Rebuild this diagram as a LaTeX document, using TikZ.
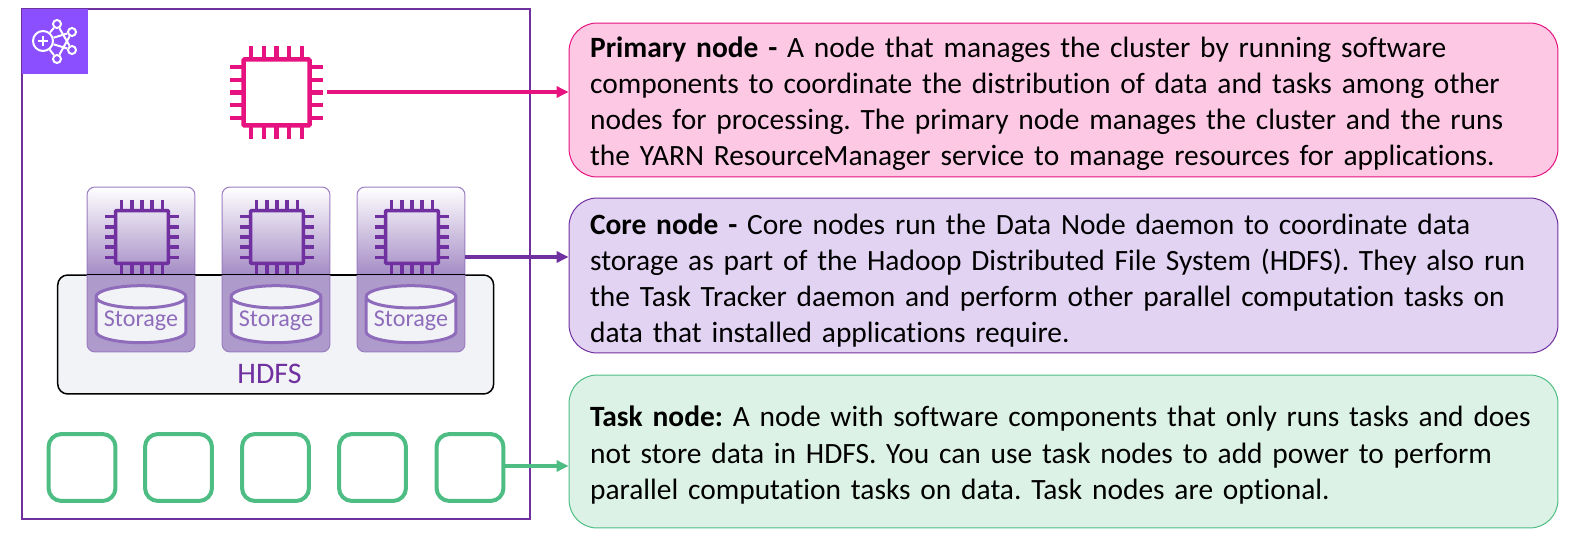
\documentclass[tikz,border=0pt]{standalone}
\usepackage{fontspec}
\setmainfont{Carlito}[Ligatures=NoCommon]
\frenchspacing
\usetikzlibrary{arrows.meta, shapes.geometric, positioning}
\definecolor{framepurple}{HTML}{7030A0}
\definecolor{iconpurple}{HTML}{8C4FFF}
\definecolor{chippink}{HTML}{E6127F}
\definecolor{taskgreen}{HTML}{4DBD84}
\definecolor{cardmid}{HTML}{A48BC5}
\definecolor{cardlow}{HTML}{AF9BCB}
\definecolor{cardedge}{HTML}{9A7CC0}
\definecolor{hdfsfill}{HTML}{F2F3F7}
\definecolor{storeline}{HTML}{8E6CBB}
\definecolor{primaryfill}{HTML}{FCC8E4}
\definecolor{corefill}{HTML}{E2D3F2}
\definecolor{taskfill}{HTML}{DDF2E6}
\pgfdeclareverticalshading{cardshade}{100bp}{color(0bp)=(cardlow); color(48.3bp)=(cardlow); color(48.3bp)=(cardmid); color(75bp)=(white); color(100bp)=(white)}
\tikzset{>={Triangle[length=0.24cm,width=0.22cm]},
  chip/.pic={
    \draw[rounded corners=0.02cm] (-33,-33) rectangle (33,33);
    \foreach \p in {-2,...,2} {
      \draw (\p*12.7,-33)--(\p*12.7,-46.5);
      \draw (\p*12.7,33)--(\p*12.7,46.5);
      \draw (-33,\p*12.7)--(-46.5,\p*12.7);
      \draw (33,\p*12.7)--(46.5,\p*12.7);
    }
  },
  card/.style={rectangle, rounded corners=0.16cm, draw=cardedge, line width=0.02cm, shading=cardshade, minimum width=2.16cm, minimum height=3.3cm, inner sep=0pt},
  store/.style={cylinder, shape border rotate=90, aspect=0.3, draw=storeline, fill=hdfsfill, line width=0.06cm, minimum width=1.8cm, minimum height=1.14cm, inner sep=0pt, text=storeline, font=\fontsize{13.7}{15}\selectfont},
  taskbox/.style={rectangle, rounded corners=0.26cm, draw=taskgreen, line width=0.08cm, minimum size=1.34cm, inner sep=0pt},
  infobox/.style={rectangle, rounded corners=0.56cm, line width=0.02cm, minimum width=19.78cm, text width=18.94cm, inner xsep=0.42cm, inner ysep=0pt, align=left, font=\fontsize{16.75}{20.6}\selectfont},
  iconline/.style={draw=white, line width=0.04cm},
  iconnode/.style={circle, draw=white, line width=0.04cm, minimum size=0.16cm, inner sep=0pt}
}
\begin{document}
\begin{tikzpicture}[x=0.02cm, y=-0.02cm]
\useasboundingbox (0,0) rectangle (1570,537);

% cluster frame and icon
\node[rectangle, draw=framepurple, line width=0.045cm, minimum width=10.16cm, minimum height=10.2cm, inner sep=0pt] (cluster) at (276,264) {};
\node[rectangle, fill=iconpurple, minimum width=1.32cm, minimum height=1.3cm, inner sep=0pt] (icon) at (55,41.5) {};
\node[iconnode, minimum size=0.4cm] (hub) at (43,41) {};
\node[iconnode] (n1) at (57,24) {};
\node[iconnode] (n2) at (72,32) {};
\node[iconnode] (n3) at (72,50) {};
\node[iconnode] (n4) at (57,59) {};
\draw[iconline] (hub)--(n1);
\draw[iconline] (hub)--(n2);
\draw[iconline] (hub)--(n3);
\draw[iconline] (hub)--(n4);
\draw[iconline] (n1)--(n3);
\draw[iconline] (n2)--(n4);
\draw[white, line width=0.04cm] (38,41)--(48,41) (43,36)--(43,46);

% primary
\pic[draw=chippink, line width=0.09cm] at (276.5,92.5) {chip};
\coordinate (primaryout) at (327,92);

% hdfs and core nodes
\node[rectangle, rounded corners=0.2cm, draw=black, fill=hdfsfill, line width=0.03cm, minimum width=8.72cm, minimum height=2.38cm, inner sep=0pt] (hdfs) at (275.7,334.5) {};
\node[text=framepurple, font=\fontsize{17}{20}\selectfont, inner sep=0pt] (hdfslabel) at (269.5,373.5) {HDFS};
\foreach \i/\x in {1/141, 2/276, 3/411} {
  \node[card] (card\i) at (\x,269.5) {};
  \pic[draw=framepurple, line width=0.07cm, scale=0.8] at (\x+1,237) {chip};
  \node[store] (store\i) at (\x,320.5) {Storage};
}
\draw[black, line width=0.03cm] (card1.west |- hdfs.north)--(card3.east |- hdfs.north);
\coordinate (coreout) at (465,257);

% task nodes
\foreach \i/\x in {1/82, 2/178.5, 3/275.5, 4/372.5, 5/470} {
  \node[taskbox] (task\i) at (\x,467.5) {};
}

% descriptions
\node[infobox, draw=chippink, fill=primaryfill] (infoP) at (1063.5,100) [minimum height=3.08cm] {\rule{0pt}{0.56cm}\textbf{Primary node -} A node that manages the cluster by running software\\
components to coordinate the distribution of data and tasks among other\\
nodes for processing. The primary node manages the cluster and the runs\\
the YARN ResourceManager service to manage resources for applications.};
\node[infobox, draw=framepurple, fill=corefill] (infoC) at (1063.5,275.5) [minimum height=3.1cm] {\rule{0pt}{0.62cm}\textbf{Core node -} Core nodes run the Data Node daemon to coordinate data\\
storage as part of the Hadoop Distributed File System (HDFS). They also run\\
the Task Tracker daemon and perform other parallel computation tasks on\\
data that installed applications require.};
\node[infobox, draw=taskgreen, fill=taskfill] (infoT) at (1063.5,451.5) [minimum height=3.06cm] {\rule{0pt}{0.56cm}\textbf{Task node:} A node with software components that only runs tasks and does\\
not store data in HDFS. You can use task nodes to add power to perform\\
parallel computation tasks on data. Task nodes are optional.};

\draw[->, chippink, line width=0.07cm] (primaryout)--(primaryout -| infoP.west);
\draw[->, framepurple, line width=0.07cm] (coreout)--(coreout -| infoC.west);
\draw[->, taskgreen, line width=0.07cm] (task5.east |- 0,466)--(infoT.west |- 0,466);
\end{tikzpicture}
\end{document}
